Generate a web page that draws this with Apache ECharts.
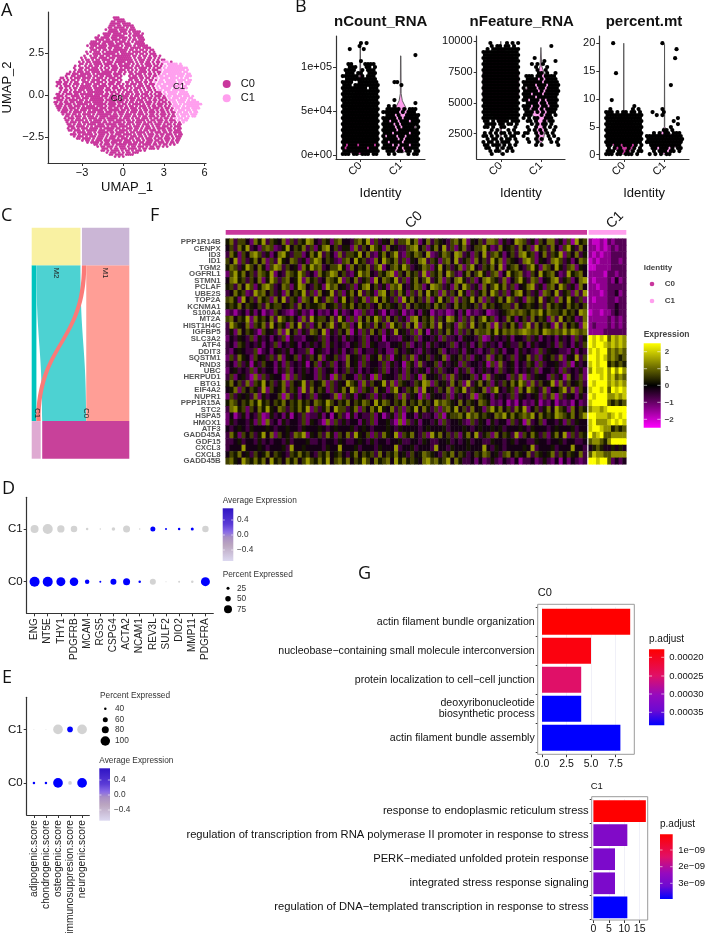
<!DOCTYPE html>
<html><head><meta charset="utf-8">
<style>html,body{margin:0;padding:0;background:#fff}#c{width:709px;height:935px}</style>
<script src="https://cdn.jsdelivr.net/npm/echarts@6/dist/echarts.min.js"></script>
</head><body><div id="c"></div>
<script>
// ---------- DATA ----------
// UMAP: [first column, occupancy pattern] per row; # = C0 cell, o = C1 cell
const umapX0=-5, umapDX=0.15, umapY0=4.6, umapDY=0.12;
const umapRows=[
[29,"###."],[29,"#####"],[28,"##.####"],[27,"#####.####"],[27,"###.##.#####"],[26,"##.#####.#.##."],
[25,"#.####.####.###."],[24,"..#####.###.#.####."],[23,".####.####.##.#.###.#"],[21,"#..###.######..#.#####."],
[20,"##.####.###.####.#.#.###"],[19,".####.##.####.##.#.##.###"],[18,"###.#.#####.#.###.#.#.####"],[17,"#####.##.###.###.###..#####."],
[16,"#.###.####.#####.#.###.#.#####"],[16,".##.#####.##.####.##.#####.####."],[16,"..###.#.##.#.#######.##.#.##.#.##"],[15,"#.#.###.#.######.###.#.####.##.#.#"],
[15,".#..####.######.#.######.#.##.#.###."],[14,"#..#.##.##.##.#########.##.#.##.#.##.#"],[13,"#.#..###.####.###.#######.#.##.#.##.#.#"],[12,".#.##.#.##.####.#.########.#.###.##.#.#.##"],
[12,"#.#.##.####.#.###.#####.###.#.##.##.#.##.ooo.#"],[11,".##.#.#.####.####.#.##.###.#.#.#.###.#.#.#..ooooo.o"],[10,"#.#..#.##.##.#.##.###.#####.#.##.#.###.##.#.o.ooooooo"],[9,"#..##.##.###.#.#.#.###.#.####.#.####.#.#.##.o.oooooooooo"],
[8,"..#.##.#.#####.#.##.###.###.#.#.#.###.#.###.o.oooooooooo.o"],[7,"#.#.###.##.####.#####.#.##.#.##.#.####.#.#.##.ooooooooo.oo"],[6,"##.###.#####.#.#######.####.#..##.###.#.##.#.#.oo.oooooooo.oo"],[5,"#..##.####.##.##.##.###.##.#...#.##.##.#.#.##.oo.ooooo.ooo.ooo"],
[3,"##.#.#.###.####.#.###.#.###.##....####.##.##.#.o.oooo.oooo.o.oo"],[2,"#.#.#.##.#.##.#.####.##.#.###.#...##.##.#.#.##.#.oo.ooooo.oooo.oo"],[1,"###.##.#.##..###.##.###.#.###.##..##.#.###.##.#.o.ooo.ooooo.oo.ooo"],[1,"##.##.#.###.#.###.###.##.###.##.#.#.###.##.#.###.oo.oooooo.ooo.oo"],
[1,"#.#.###.#.#.#####.##.####.#.##.##.###.#.###.##.#.o.ooo.oooooo.oo"],[2,"##.#.#.##.######.#####.##.###.##.#.#.###.#.##.#.o.ooooo.oo.oooo"],[2,".#.##.#.#.###.###.####.###.#.##.##.#.##.#.#.##.#.oo.ooo.oooooo."],[2,"#.##.#.####.#.########.#.###.#.#.###.##.#.##.#.###.o.ooooo.oooo"],
[1,"##.#.###.##.######.####.##.#.##.#.##.#.##.###.#.#.##.o.oooo.ooooo"],[1,"###.#..####.#.#######.###.###.#.###.#.##.#.##.#.###.#.oo.oooo.ooo.o"],[0,"###.#.##.#.##.###.######.#.####.#.##.###.#.##.##.#.#.##.o.ooo.ooo.oo"],[0,".###.#.####.##.#.#######.###.##.##.#.##.###.#.#.##.##.#.ooo.oooo.o.oo"],
[0,"##.#.##.##.###.###.#####.#.###.###.#.##.#.##.###.#.#.##.#.oo.ooo.oooooo"],[0,"#.##.###.#.#####.#.######.####.#.##.#.####.#.##.#.###.#.#.oo.o.ooooooooo"],[0,".###.#.##.###.#.####.###.#.###.###.#.##.#.###.#.##.##.#.#.oooo.o.oooooo"],[1,"##.##.###.#.########.###.##.##.#.##.###.#.##.#.###.#.##.#.oo.oooo.oooo"],
[2,"#.###.#.##.###.#.#####.#.#####.##.#.###.#.##.##.#.##.#.#.o.ooo.oo.oo"],[3,"###.#.####.#.####.###.###.#.###.#.###.##.#.###.#.##.#.##.oo.oo.o.oo"],[4,"#.##.##.#.####.#.#######.##.##.###.#.###.#.##.#.###.#.#.o.oooo.ooo"],[4,".##.#.###.#.###.#.####.####.#.###.##.#.##.###.#.##.#.##.o.oo.o.oo"],
[5,"#.###.##.##.####.###.#####.#.###.#.##.###.#.##.#.##.#.o.oo.oo"],[5,"##.#.####.#.#.####.#.###.####.##.#.####.#.##.###.#.###.o.ooo"],[6,"#.###.#.###.#####.##.#.####.#.###.###.#.##.#.##.##.#.#.#.o."],[6,"##.#.##.#.####.###.#####.###.##.#.##.###.#.###.#.##.#.##"],
[6,".###.####.#.#.#####.#.###.####.#.###.#.##.#.##.###.#.###"],[6,"#.##.#.###.####.#.#####.##.#.###.##.#.###.#.####.##.#.##."],[7,"##.###.#.#####.###.###.#.####.#.##.#.##.###.#.##.##.###"],[8,".#.####.##.#.#####.##.####.#.##.####.#.#.###.##.#.####."],
[8,"###.#.#####.#.###.#.#.###.####.#.##.#.###.#.##.###.#.##"],[9,"#.###.#.###.###.#.###.###.#.###.##.#.##.##.#.##.#.###."],[11,"##.####.#.###.#.###.#.###.##.##.#.###.#.##.###.#.##"],[13,"#.##.#.###.###.#####.###.#.##.#.###.##.#.##.#.##."],
[16,"#.####.#.##.###.#.####.##.##.###.#.###.#.##.#"],[19,"##.#.###.#.#####.####.#.####.##.#.##.#.#"],[21,"#.##.###.#.###.#.##.###.#.##.##.#.#"],[22,".###.#.##.###.####.#.##.###.#"],
[23,"##.#.####.#.##.#.###.#"],[25,"#.###.#.#.##.###"],[27,"##.####.####"],[29,"#.#.#"]];

// Violin jitter: rows from the top of the panel, columns across the jitter band
const vCountC0=["","......#.#","......#","..#....#","","","","......#","..##....####","..###...##.#",".####..#.###",".###.##..###","######.#.###",".###########","####..#######","###.#########","#########.###","#############","#############","#############","#############","#############","#############","#############","#############","#############","#############","#############","#############","#############","#############","#############","#############","#############","#############","#.###.#####.#","#.#######.###","#############","###.##.###.##"];
const vCountC1=["","","","","","...........#","","","","","","","","","....##","......#","","","","","....#","...........#","..#.#",".#####.#.###","######.#.###.",".###.#..#####","#####.#.#####","##.##.###.###","####.#.######","####.#.####.#","#####.#######","###.#####.###","#.###.##.####","#####.#.#####","##.####.#####","###.#.###.###","#####.#.#####",".###.##.##.##","..#.#....#.##"];
const vFeatureC0=["","..#.....#.#.#","...#.##.##.#",".#.##########","#############","#############","#############","#############","#############","#############","#############","#############","#############","#############","#############","#############","#############","#############","#############","#############","#############","#############","#############","#############","#############","#############","#############","##.#.####.###",".####.##.##.#","##.#..##...#.","...#.#...#.#.","#.#.#.##.#.##","##.#.#..#.##.",".#.##.#.##.#.","#.##.#.###..#","##.###.#.#.#.",".##..#.#.##..","..#.##..#.#..","...#...#....."];
const vFeatureC1=["","","..........#","","","","....#",".......#...#","...#.#.#","....#...#",".....#..#",".....##.#..#",".###.##.####",".####.#.####","#######.#####","####.###.####","#.###.##.####","#####.#.#####","###.###.#####","####.#######","##.###.#.####",".####.##.###","###.##.##.###","##.##.#.####",".###.#.#.###","###...#.##.#","#.#.##..###",".##.#..#.##.","...#.#.##.#.",".#..#..#.#.#","..#.#.#.#..#","##..#.#.#.#","#....#...#.#.",".#..#.#..#..#","..#..#....#.#","....#.#.....#"];
const vPctC0=["","..#","","","","","","","","","","...#","","","","","","","","","..#","","..........#",".#.......#.#","###.#.##.##.#","#############","#############","#############","#############","#############","#############","#############","#############","#############","#############","##.##.###.#.#",".#.#.#..#.#.#","###.##.#.#.##","###.##.###.#."];
const vPctC1=["",".....#","","..........#","","","..........#","","","","","","","","","........#","","","","","","","",".....#","..#...#","...#.#","...........#",".........#","...........#","........#","......##.#","..#.#.##.###","#############","#############","#############",".###########","..##.###.#.##","..#.###.##.#",".#.#.#.##"];
// Violin outlines: [value, half width]
const violinCountC0=[[128000,0],[95000,.01],[80000,.05],[60000,.2],[40000,.42],[20000,.45],[5000,.4],[1000,.1]];
const violinCountC1=[[113000,.005],[70000,.01],[62000,.04],[52000,.15],[45000,.25],[35000,.35],[25000,.4],[10000,.35],[3000,.05]];
const violinFeatureC0=[[10000,0],[9400,.01],[8800,.3],[7500,.45],[5500,.45],[4000,.2],[3300,.02],[800,0]];
const violinFeatureC1=[[9500,0],[8000,.02],[7000,.12],[6000,.42],[5000,.35],[4000,.2],[3000,.12],[2000,.06],[1700,0]];
const violinPctC0=[[20,0],[8,.005],[6.5,.1],[5,.3],[3.5,.45],[2,.3],[.5,.15],[0,0]];
const violinPctC1=[[19.8,0],[5,.005],[4,.08],[3,.35],[2.4,.45],[1.5,.3],[.5,.1],[0,0]];

// Alluvial
const alluvialNodes=["M2","M1","C1","C0"];
const alluvialLinks=[["M2","C1",4.7],["M2","C0",44],["M1","C0",43],["M1","C1",4.3]];

// D: marker dot plot
const dotGenes=["ENG","NT5E","THY1","PDGFRB","MCAM","RGS5","CSPG4","ACTA2","NCAM1","REV3L","SULF2","DIO2","MMP11","PDGFRA"];
const dotPctC1=[75,95,68,60,20,10,30,65,10,45,15,20,25,60];
const dotPctC0=[95,95,85,80,40,15,55,65,20,55,5,15,20,85];
const dotAvgC1=[-.7,-.7,-.7,-.7,-.7,-.7,-.7,-.7,-.7,.7,.7,.7,.7,-.7];
const dotAvgC0=[.7,.7,.7,.7,.7,.7,.7,.7,.7,-.7,-.7,-.7,-.7,.7];
// E: score dot plot
const scoreNames=["adipogenic.score","chondrogenic.score","osteogenic.score","immunosuppresion.score","neurogenic.score"];
const scorePctC1=[27,27,100,66,100];
const scorePctC0=[40,40,100,50,100];
const scoreAvgC1=[-.7,-.7,-.7,.7,-.7];
const scoreAvgC0=[.7,.7,.7,-.7,.7];

// F: heatmap. digits are levels centred on 4.5
const heatGenes=["PPP1R14B","CENPX","ID3","ID1","TGM2","OGFRL1","STMN1","PCLAF","UBE2S","TOP2A","KCNMA1","S100A4","MT2A","HIST1H4C","IGFBP5","SLC3A2","ATF4","DDIT3","SQSTM1","RND3","UBC","HERPUD1","BTG1","EIF4A2","NUPR1","PPP1R15A","STC2","HSPA5","HMOX1","ATF3","GADD45A","GDF15","CXCL3","CXCL8","GADD45B"];
const heatC0=[
"573664275836547263658743652674436758263547366857247365436758254637762534876352647735261856",
"463758342676235846573625784635527364865274533678462574836257346685237456374628563742685374",
"375264786352478536624758364273665847325746832657648235764873526483675246378562473658264735",
"648263574726385476352687465326748563274865736254783652674835627463857265437862543786352476",
"576358647526873645275867346685274657368246758634576258463572684365748256743685276485367254",
"268574637658243765863427568746325867436578264756382657486325746853672485673264856742385674",
"478563647258636745827563476582647356284765836257468357264785362478653724685376245783562478",
"563748625786347625874365286745362578463527684357624876352748635274685736245783526748635274",
"347562386746352746583627458362574836527846375263748562736485263574863625784635276483562738",
"675284637562748365276485376258463572684753628574637258462736584726357486352764835627485362",
"565746546375664563746556745636574656347565463746556475634756546375645663745654637565475646",
"231342524132643213523142324152341263253142351324254132312425132341234567676576857665756487",
"674658275647386564273856647385262747586374635278465736487526374685624375246374652738465237",
"386547265738465274836257468357624856374628563748265738465276384657283647526837465283746528",
"352746531645372846253764825364715263746253845362741536475263647667585767678767587676868767",
"243543625342436153324453624352534362435143325436244352633425443612534352443635243425342635",
"342653435243624354243534625343245362543324453624352534436243524635342453364253443526342536",
"324543361342453524336145324352436243353422643543253446243352543243635244253432635443325243",
"263754264536372546253647254632745362547361546372546354725463625437256436254736254637254836",
"342635153644252634351462536243745263443625341652734462534526344351627345243652634453261534",
"245343625344253624353426345243635243453624352643542536344253624353426345243536244352634352",
"362453172635441726354426351736442635172544362635174453627354462517354426371635442635174362",
"574637265846357264583645726354865273645837265436587264537462835746253647586273645827364563",
"457264653826457365283746526357486265374526843657284536472658365472684356274865372546837264",
"263545372534461735243625443716352543625344627354162544362534371654253436254345263716354253",
"576465758564657465756476586465746576485764657465756486765474654765232413142325132413231423",
"378562647585476365758263574866357264758547362658475362675846374526857463758246357486527465",
"241352436125342514362335241463152433624135261442533426156675867565476857567684756587657468",
"253443526173425344362543172635344253624453171635244352634453263542534426351734624435263544",
"434543544454344544354445434544453454344454354444345444534445434544545344454354443454445344",
"375264635847264537682546375264738546263754826574362857463625748356274653826475362574826365",
"334534435343443534445334344354334543534434453344354334453434534433544345344335443445344334",
"344484445434445384454444354484445344435444834453444384435444544484354344445483444534448443",
"465745364574654365756436574564357465637465745364576543657465346576453674654736545736465473",
"675486575748564757468657584675746586475674857565478675684753342423532432413342353241424323"];
const heatC1=[
"2112132333","2212123233","2121223333","1212223323","1122223333","2222133233","2122232423","2212233333","2221233423","2122233233",
"2222233433","1221223433","2222232323","2322232323","2222333333","9898968787","9899878787","8989967676","9989867656","8989956565",
"7988979797","9998978676","9899978787","8998969898","9899977878","8999965656","7887899999","9988878989","8977789898","8998775656",
"9789667777","6776579999","4565445454","6877667777","9989963434"];

// G: enrichment bars
const goTermsC0=["actin filament bundle organization","nucleobase\u2212containing small molecule interconversion","protein localization to cell\u2212cell junction","deoxyribonucleotide\nbiosynthetic process","actin filament bundle assembly"];
const goCountC0=[9,5,4,4,8];
const goAdjC0=[0.00018,0.00019,0.00025,0.00038,0.00038];
const goTermsC1=["response to endoplasmic reticulum stress","regulation of transcription from RNA polymerase II promoter in response to stress","PERK\u2212mediated unfolded protein response","integrated stress response signaling","regulation of DNA\u2212templated transcription in response to stress"];
const goCountC1=[17,11,7,7,11];
const goAdjC1=[0.2e-9,2.8e-9,2.9e-9,2.9e-9,3.9e-9];

// ---------- BUILD ----------
const FONT='"Liberation Sans",Arial,sans-serif', DARK='#333', TXT='#111';
const grid=[],xAxis=[],yAxis=[],series=[],graphic=[];
const COL0='#C9379D',COL1='#FF9FEE';
function T(x,y,text,o={}){graphic.push({type:'text',x,y,z:100,rotation:o.rot||0,style:{text,fill:o.color||TXT,font:`${o.weight||'normal'} ${o.size||10}px ${o.family||FONT}`,align:o.align||'left',verticalAlign:'middle'}});}
function R(x,y,w,h,fill,stroke){graphic.push({type:'rect',z:stroke?50:60,shape:{x,y,width:w,height:h},style:{fill:fill||'none',stroke:stroke||'none',lineWidth:stroke?1:0}});}
function C(x,y,d,fill){graphic.push({type:'circle',z:60,shape:{cx:x,cy:y,r:d/2},style:{fill}});}
function bar(x,y,w,h,stops,ticks){R(x,y,w,h,{type:'linear',x:0,y:0,x2:0,y2:1,colorStops:stops.map(c=>({offset:c[0],color:c[1]}))});
  ticks.forEach(t=>{[[x,x+w/5],[x+w*4/5,x+w]].forEach(a=>graphic.push({type:'line',z:61,shape:{x1:a[0],y1:t,x2:a[1],y2:t},style:{stroke:'#fff',lineWidth:.6}}));});}
function baseAxis(o){return Object.assign({axisLine:{show:true,onZero:false,lineStyle:{color:DARK,width:1.2}},axisTick:{show:true,length:3,lineStyle:{color:DARK}},axisLabel:{color:TXT,fontFamily:FONT,fontSize:11,margin:4},splitLine:{show:false},nameTextStyle:{color:TXT,fontFamily:FONT,fontSize:13}},o);}
function add(l,t,r,b,xo,yo){grid.push({left:l,top:t,width:r-l,height:b-t,outerBoundsMode:'none'});const i=grid.length-1;xAxis.push(baseAxis(Object.assign({gridIndex:i,type:'value'},xo)));yAxis.push(baseAxis(Object.assign({gridIndex:i,type:'value'},yo)));return i;}
function ticksAt(vals,fmt,extra){return {axisTick:{show:true,length:3,customValues:vals,lineStyle:{color:DARK}},axisLabel:Object.assign({color:TXT,fontFamily:FONT,fontSize:11,margin:4,customValues:vals,formatter:fmt||(v=>String(v))},extra||{})};}
const minus=s=>String(s).replace('-','\u2212');

// Panel A
{const i=add(48,12,206,163,
 Object.assign({min:-5.5,max:6.1,name:'UMAP_1',nameLocation:'middle',nameGap:18},ticksAt([-3,0,3,6],v=>minus(v))),
 Object.assign({min:-4.06,max:4.93,name:'UMAP_2',nameLocation:'middle',nameGap:34},ticksAt([-2.5,0,2.5],v=>minus(v.toFixed(1)))));
 const a=[],b=[];umapRows.forEach((r,j)=>{for(let k=0;k<r[1].length;k++){const c=r[1][k];const p=[umapX0+umapDX*(r[0]+k+(j%2)/2),umapY0-umapDY*j];if(c==='#')a.push(p);else if(c==='o')b.push(p);}});
 series.push({type:'scatter',xAxisIndex:i,yAxisIndex:i,data:a,symbolSize:2.8,itemStyle:{color:COL0,opacity:1},silent:true});
 series.push({type:'scatter',xAxisIndex:i,yAxisIndex:i,data:b,symbolSize:2.8,itemStyle:{color:COL1,opacity:1},silent:true});
 T(116.7,98.7,'C0',{size:9.5,align:'center'});T(179,86,'C1',{size:9.5,align:'center'});
 C(226.7,84,8,COL0);C(226.7,98.3,8,COL1);T(240.7,84,'C0',{size:11});T(240.7,98.3,'C1',{size:11});
}
// Panel B
function violinPanel(l,r,ymin,ymax,tvals,tfmt,title,tx,topVal,step,arts,violins){
 const i=add(l,36,r,159,
  Object.assign({min:.4,max:2.6,name:'Identity',nameLocation:'middle',nameGap:28},ticksAt([1,2],v=>v===1?'C0':'C1',{rotate:45,margin:5})),
  Object.assign({min:ymin,max:ymax},ticksAt(tvals,tfmt)));
 violins.forEach((v,g)=>{series.push({type:'custom',xAxisIndex:i,yAxisIndex:i,data:[[g+1,v[0][0]]],silent:true,clip:true,renderItem:(p,api)=>{
   const L=v.map(q=>api.coord([g+1-q[1],q[0]])),Rr=v.map(q=>api.coord([g+1+q[1],q[0]])).reverse();
   return {type:'polygon',shape:{points:L.concat(Rr)},style:{fill:g?COL1:COL0,stroke:'#555',lineWidth:.9}};}});});
 arts.forEach((art,g)=>{const d=[];art.forEach((row,j)=>{for(let k=0;k<row.length;k++)if(row[k]==='#')d.push([g+1-.45+.9*(k+.5+(j%2)/2-.25)/13,topVal-step*j]);});
  series.push({type:'scatter',xAxisIndex:i,yAxisIndex:i,data:d,symbolSize:4.2,itemStyle:{color:'#000',opacity:1},silent:true});});
 T(tx,22,title,{size:15,weight:'bold',align:'center'});
}
violinPanel(336,425,-4200,135600,[0,50000,100000],v=>v===0?'0e+00':v===50000?'5e+04':'1e+05','nCount_RNA',380.7,131000,3409,[vCountC0,vCountC1],[violinCountC0,violinCountC1]);
violinPanel(476.7,565,446,10430,[2500,5000,7500,10000],null,'nFeature_RNA',521.7,10106,243.5,[vFeatureC0,vFeatureC1],[violinFeatureC0,violinFeatureC1]);
violinPanel(599.3,689,-.77,21.3,[0,5,10,15,20],null,'percent.mt',644,20.55,.5376,[vPctC0,vPctC1],[violinPctC0,violinPctC1]);

// Panel C
series.push({type:'sankey',orient:'vertical',left:31.7,top:227.7,width:97.6,height:231,nodeWidth:37.6,nodeGap:1.5,layoutIterations:0,draggable:false,silent:true,
 label:{show:false},emphasis:{disabled:true},
 data:alluvialNodes.map((n,i)=>({name:n,itemStyle:{color:['#F9F1A2','#CBB6D6','#DFAAD2','#C8419A'][i],borderWidth:0,opacity:1}})),
 links:alluvialLinks.map((l,i)=>({source:l[0],target:l[1],value:l[2],lineStyle:{color:['#00C4BE','#4DD2D2','#FF9E96','#FB7A78'][i],opacity:1,curveness:.5}}))});
T(56,273,'M2',{size:8,align:'center',rot:-Math.PI/2,color:'#222'});T(105,273,'M1',{size:8,align:'center',rot:-Math.PI/2,color:'#222'});
T(37,413,'C1',{size:8,align:'center',rot:-Math.PI/2,color:'#222'});T(86,413,'C0',{size:8,align:'center',rot:-Math.PI/2,color:'#222'});

// Panels D and E
function dotColor(v){const t=Math.min(1,Math.max(0,(v+.7)/1.4));const c=[211,211,211].map((a,i)=>Math.round(a+([0,0,255][i]-a)*t));return `rgb(${c})`;}
function dotPanel(l,t,r,b,names,rows,sizeFn,labelSize){
 const i=add(l,t,r,b,
  Object.assign({min:.4,max:names.length+.6},ticksAt(names.map((n,k)=>k+1),v=>names[v-1],{rotate:90,margin:5,fontSize:labelSize,color:'#222'})),
  Object.assign({min:.4,max:2.6},ticksAt([1,2],v=>v===1?'C0':'C1')));
 yAxis[i].axisLabel.fontSize=11.5;
 rows.forEach((row,g)=>{series.push({type:'scatter',xAxisIndex:i,yAxisIndex:i,silent:true,
   data:row[0].map((p,k)=>({value:[k+1,g+1],symbolSize:sizeFn(p),itemStyle:{color:dotColor(row[1][k]),opacity:1}}))});});
}
dotPanel(26.7,497.3,213.3,613.3,dotGenes,[[dotPctC0,dotAvgC0],[dotPctC1,dotAvgC1]],p=>.1*p+.5,10);
dotPanel(26.7,697.3,89.3,815,scoreNames,[[scorePctC0,scoreAvgC0],[scorePctC1,scoreAvgC1]],p=>Math.max(.8,.12*p-2.3),10.2);
const avgStops=[[0,'#2F14C4'],[.3,'#5B3BD6'],[.45,'#8A6CE6'],[.55,'#A98FC4'],[.7,'#BBA6C0'],[1,'#DCD8F0']];
const LG='#333';
T(222.7,500.7,'Average Expression',{size:8.3,color:LG});bar(222.7,508.3,10.6,52.7,avgStops,[520,535,550]);
[['0.4',520],['0.0',535],['\u22120.4',550]].forEach(a=>T(237,a[1],a[0],{size:8.3,color:LG}));
T(222.7,575,'Percent Expressed',{size:8.3,color:LG});
[[25,588.3,3],[50,598.7,5.5],[75,609.3,8]].forEach(a=>{C(228,a[1],a[2],'#000');T(237,a[1],String(a[0]),{size:8.3,color:LG});});
T(100,695.7,'Percent Expressed',{size:8.3,color:LG});
[[40,708.7,2.5],[60,719.7,5],[80,729.7,7],[100,741,9.5]].forEach(a=>{C(105.3,a[1],a[2],'#000');T(115,a[1],String(a[0]),{size:8.3,color:LG});});
T(99.3,760.7,'Average Expression',{size:8.3,color:LG});bar(99.3,768.3,10.7,52.4,avgStops,[780,795,810]);
[['0.4',780],['0.0',795],['\u22120.4',810]].forEach(a=>T(114,a[1],a[0],{size:8.3,color:LG}));

// Panel F
const heatCfg=[[225.7,587,heatC0,90,true,.42],[588.7,626.3,heatC1,10,false,.556]];
const heatIdx=[];
heatCfg.forEach(c=>{
 grid.push({left:c[0],top:238.7,width:c[1]-c[0],height:225.6,outerBoundsMode:'none'});const i=grid.length-1;
 xAxis.push({gridIndex:i,type:'category',data:Array.from({length:c[3]},(_,k)=>k),show:false,boundaryGap:true});
 yAxis.push({gridIndex:i,type:'category',data:heatGenes,inverse:true,boundaryGap:true,show:c[4],axisLine:{show:false},axisTick:{show:false},
   axisLabel:{interval:0,color:'#555',fontFamily:FONT,fontSize:7.8,fontWeight:'bold',margin:5}});
 const d=[];c[2].forEach((row,j)=>{for(let k=0;k<c[3];k++){const ch=row[k]||row[row.length-1];d.push([k,j,(+ch-4.5)*c[5]]);}});
 heatIdx.push(series.length);
 series.push({type:'heatmap',xAxisIndex:i,yAxisIndex:i,data:d,silent:true,progressive:0,emphasis:{disabled:true}});
});
R(225.7,230,361.3,4.7,COL0);R(588.7,230,37.6,4.7,COL1);
T(414,220,'C0',{size:14,align:'center',rot:Math.PI/4});T(615,220,'C1',{size:14,align:'center',rot:Math.PI/4});
T(643.7,268,'Identity',{size:8,weight:'bold',color:'#444'});
C(652,284,4.6,COL0);C(652,301,4.6,COL1);T(664.7,284,'C0',{size:8,weight:'bold',color:'#444'});T(664.7,301,'C1',{size:8,weight:'bold',color:'#444'});
T(643.7,335,'Expression',{size:8.5,weight:'bold',color:'#444'});
bar(643.7,343.3,17,84.4,[[0,'#FFFF00'],[.5,'#000000'],[1,'#FF00FF']],[351.7,368.7,385.3,402.3,419.3]);
[['2',351.7],['1',368.7],['0',385.3],['\u22121',402.3],['\u22122',419.3]].forEach(a=>T(664.7,a[1],a[0],{size:8,weight:'bold',color:'#444'}));

// Panel G
const adjStops=[[0,[255,0,0]],[.35,[224,16,104]],[.6,[150,10,190]],[.8,[110,10,210]],[1,[0,0,255]]];
function adjColor(t){for(let i=1;i<adjStops.length;i++){if(t<=adjStops[i][0]){const a=adjStops[i-1],b=adjStops[i],f=(t-a[0])/(b[0]-a[0]);return `rgb(${a[1].map((v,k)=>Math.round(v+(b[1][k]-v)*f))})`;}}return 'rgb(0,0,255)';}
const adjBarStops=adjStops.map(s=>[s[0],`rgb(${s[1]})`]);
function goPanel(bx0,bx1,by0,by1,gt,gh,xmin,xmax,terms,counts,adj,amin,amax,tvals,tfmt,offs,bw,fs,mg){
 const i=add(bx0,gt,bx1,gt+gh,
  Object.assign({min:xmin,max:xmax,offset:offs},ticksAt(tvals,tfmt,{fontSize:10.5,margin:4})),
  {type:'category',data:terms,inverse:true,axisLine:{show:false,onZero:false},axisTick:{show:true,length:2,lineStyle:{color:DARK}},axisLabel:{color:TXT,fontFamily:FONT,fontSize:fs,margin:mg,interval:0,lineHeight:11.5,align:'right'}});
 xAxis[i].axisLine={show:false,onZero:false};
 xAxis[i].splitLine={show:true,lineStyle:{color:'#ECECF6',width:.8}};
 R(bx0,by0,bx1-bx0,by1-by0,null,'#9a9a9a');
 series.push({type:'bar',xAxisIndex:i,yAxisIndex:i,barWidth:bw,silent:true,data:counts.map((c,k)=>({value:c,itemStyle:{color:adjColor((adj[k]-amin)/(amax-amin))}}))});
}
goPanel(537.7,634.3,604.3,754.3,607.2,145,-.44,9.42,goTermsC0,goCountC0,goAdjC0,.00018,.00038,[0,2.5,5,7.5],v=>v.toFixed(1),2,26,10.6,3);
goPanel(591.7,647.7,796.7,920,799,120.4,-.55,17.6,goTermsC1,goCountC1,goAdjC1,.2e-9,3.9e-9,[0,5,10,15],null,.6,21.7,11.2,3);
T(537.7,593.3,'C0',{size:11});T(590.7,786.7,'C1',{size:9.5});
T(649,639.3,'p.adjust',{size:10});bar(649,649.3,15.3,76,adjBarStops,[657.3,676,694,712.3]);
[['0.00020',657.3],['0.00025',676],['0.00030',694],['0.00035',712.3]].forEach(a=>T(669.3,a[1],a[0],{size:9.5}));
T(660,824,'p.adjust',{size:10});bar(660,834.3,12.7,64.7,adjBarStops,[850,866.7,883.3]);
[['1e\u221209',850],['2e\u221209',866.7],['3e\u221209',883.3]].forEach(a=>T(678.3,a[1],a[0],{size:9.5}));

// Panel letters
[['A',1,11],['B',295,7],['C',1,216],['F',150,216],['D',2,489],['E',2,678],['G',358,574]].forEach(a=>T(a[1],a[2],a[0],{size:18,family:'"Open Sans",sans-serif'}));

const chart=echarts.init(document.getElementById('c'));
chart.setOption({animation:false,backgroundColor:'#fff',grid,xAxis,yAxis,series,graphic:{elements:graphic},
 visualMap:{show:false,seriesIndex:heatIdx,dimension:2,min:-2.5,max:2.5,inRange:{color:['#FF00FF','#000000','#FFFF00']}}});
</script></body></html>
